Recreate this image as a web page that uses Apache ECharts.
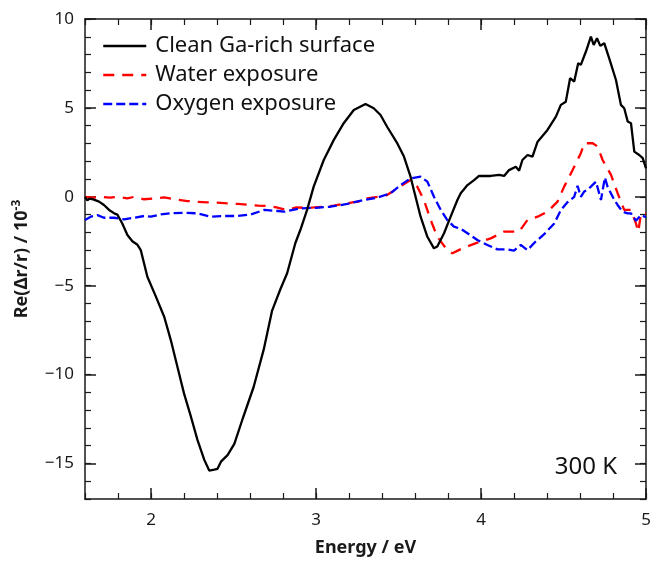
<!DOCTYPE html>
<html>
<head>
<meta charset="utf-8">
<script src="https://cdn.jsdelivr.net/npm/echarts@6/dist/echarts.min.js"></script>
<style>
  html, body { margin: 0; padding: 0; background: #fff; }
  #chart { width: 654px; height: 562px; }
</style>
</head>
<body>
<div id="chart"></div>
<script>
// energies (eV) and Re(dr/r) values (x 1e-3)
const cleanE = [1.60, 1.614, 1.627, 1.65, 1.685, 1.715, 1.746, 1.78, 1.796, 1.806, 1.826, 1.857, 1.887, 1.918, 1.938,
  1.978, 2.029, 2.08, 2.12, 2.16, 2.20, 2.242, 2.282, 2.323, 2.353, 2.383, 2.403, 2.424, 2.464, 2.505, 2.555,
  2.622, 2.683, 2.734, 2.784, 2.825, 2.875, 2.905, 2.946, 2.986, 3.047, 3.108, 3.168, 3.229, 3.30, 3.35, 3.391,
  3.431, 3.493, 3.533, 3.573, 3.593, 3.634, 3.675, 3.715, 3.735, 3.776, 3.816, 3.857, 3.877, 3.918, 3.958, 3.988,
  4.059, 4.11, 4.14, 4.17, 4.211, 4.231, 4.251, 4.282, 4.312, 4.343, 4.403, 4.454, 4.484, 4.514, 4.54, 4.565,
  4.589, 4.605, 4.636, 4.666, 4.683, 4.703, 4.723, 4.747, 4.777, 4.818, 4.848, 4.868, 4.889, 4.909, 4.929, 4.959,
  4.98, 5.0];
const cleanV = [0.0, -0.2, -0.1, -0.15, -0.27, -0.46, -0.74, -0.95, -1.0, -0.9, -1.5, -2.15, -2.5, -2.7, -3.0,
  -4.5, -5.6, -6.75, -8.06, -9.56, -11.06, -12.37, -13.69, -14.8, -15.4, -15.35, -15.3, -14.9, -14.53, -13.9, -12.5,
  -10.7, -8.6, -6.4, -5.2, -4.3, -2.6, -1.87, -0.74, 0.57, 2.07, 3.2, 4.14, 4.88, 5.22, 4.98, 4.6,
  3.94, 3.0, 2.26, 1.13, 0.38, -1.12, -2.25, -2.9, -2.8, -2.05, -1.12, -0.18, 0.2, 0.66, 0.94, 1.17,
  1.17, 1.23, 1.17, 1.5, 1.69, 1.47, 2.07, 2.35, 2.26, 3.1, 3.76, 4.51, 5.17, 5.35, 6.67, 6.48,
  7.51, 7.42, 8.17, 9.01, 8.54, 8.92, 8.49, 8.64, 7.79, 6.57, 5.17, 4.98, 4.23, 4.14, 2.54, 2.35,
  2.17, 1.6];

const waterE = [1.60, 1.65, 1.70, 1.75, 1.80, 1.857, 1.90, 1.958, 2.02, 2.08, 2.15, 2.221, 2.28, 2.343, 2.40,
  2.464, 2.525, 2.585, 2.65, 2.707, 2.76, 2.825, 2.88, 2.93, 2.986, 3.047, 3.108, 3.168, 3.229, 3.27, 3.31,
  3.37, 3.431, 3.493, 3.573, 3.614, 3.654, 3.695, 3.735, 3.796, 3.827, 3.887, 3.978, 4.059, 4.14, 4.231, 4.282,
  4.343, 4.403, 4.464, 4.504, 4.555, 4.605, 4.626, 4.677, 4.707, 4.737, 4.788, 4.828, 4.868, 4.909, 4.939, 4.953,
  4.97, 5.0];
const waterV = [0.0, -0.05, 0.0, -0.05, 0.0, -0.09, 0.0, -0.14, -0.1, -0.03, -0.15, -0.24, -0.28, -0.31, -0.33,
  -0.37, -0.4, -0.44, -0.5, -0.52, -0.6, -0.74, -0.6, -0.62, -0.6, -0.56, -0.5, -0.4, -0.3, -0.27, -0.09,
  0.0, 0.1, 0.48, 0.94, 0.57, -0.18, -1.3, -2.25, -3.0, -3.18, -2.9, -2.58, -2.34, -1.96, -1.96, -1.3,
  -1.12, -0.84, -0.27, 0.57, 1.5, 2.45, 3.01, 3.01, 2.82, 2.07, 1.23, 0.2, -0.74, -0.74, -1.5, -1.96,
  -0.93, -0.93];

const oxygenE = [1.60, 1.635, 1.675, 1.715, 1.776, 1.837, 1.898, 1.958, 1.999, 2.06, 2.12, 2.201, 2.282, 2.363, 2.444,
  2.525, 2.606, 2.687, 2.768, 2.808, 2.905, 3.0, 3.088, 3.19, 3.29, 3.37, 3.452, 3.513, 3.573, 3.634, 3.675,
  3.715, 3.756, 3.796, 3.836, 3.877, 3.918, 3.978, 4.039, 4.10, 4.16, 4.2, 4.241, 4.282, 4.322, 4.383, 4.444,
  4.484, 4.525, 4.565, 4.585, 4.605, 4.626, 4.646, 4.666, 4.697, 4.727, 4.751, 4.767, 4.808, 4.828, 4.858, 4.889,
  4.909, 4.939, 4.97, 5.0];
const oxygenV = [-1.31, -1.12, -1.03, -1.18, -1.18, -1.27, -1.18, -1.08, -1.12, -0.99, -0.93, -0.9, -0.93, -1.12, -1.08,
  -1.08, -0.99, -0.74, -0.8, -0.84, -0.65, -0.62, -0.56, -0.4, -0.18, -0.05, 0.2, 0.66, 1.04, 1.13, 0.85,
  0.0, -0.74, -1.31, -1.68, -1.8, -2.05, -2.43, -2.71, -2.96, -2.96, -3.03, -2.71, -3.0, -2.6, -2.1, -1.5,
  -0.75, -0.3, 0.0, 0.62, 0.0, 0.3, 0.4, 0.57, 0.85, -0.18, 1.08, 0.57, -0.18, -0.46, -0.84, -0.93,
  -0.93, -1.35, -1.03, -1.15];

const xMajor = [2, 3, 4, 5];
const yMajor = [-15, -10, -5, 0, 5, 10];

const font = 'Noto Sans';
const axisColor = '#1a1a1a';

const zip = (xs, ys) => xs.map((x, i) => [x, ys[i]]);
const minus = v => (v < 0 ? '\u2212' + Math.abs(v) : String(v));

const chart = echarts.init(document.getElementById('chart'));

// one axis for minor ticks, one for major ticks + labels, on each side
const xAxisFor = (position, major) => ({
    type: 'value',
    position: position,
    min: 1.6,
    max: 5,
    interval: major ? undefined : 0.2,
    axisLine: { show: major, onZero: false, lineStyle: { color: axisColor, width: 1.5 } },
    axisTick: major
        ? { inside: true, length: 11, customValues: xMajor, lineStyle: { color: axisColor, width: 1.5 } }
        : { inside: true, length: 6, lineStyle: { color: axisColor, width: 1.2 } },
    axisLabel: (major && position === 'bottom')
        ? { customValues: xMajor, margin: 13, fontSize: 17, color: axisColor, fontFamily: font }
        : { show: false },
    splitLine: { show: false },
    name: (major && position === 'bottom') ? 'Energy / eV' : '',
    nameLocation: 'middle',
    nameGap: 40,
    nameTextStyle: { fontSize: 18, fontWeight: 'bold', color: axisColor, fontFamily: font }
});

const yAxisFor = (position, major) => ({
    type: 'value',
    position: position,
    min: -17,
    max: 10,
    interval: major ? undefined : 1,
    axisLine: { show: major, onZero: false, lineStyle: { color: axisColor, width: 1.5 } },
    axisTick: major
        ? { inside: true, length: 11, customValues: yMajor, lineStyle: { color: axisColor, width: 1.5 } }
        : { inside: true, length: 6, lineStyle: { color: axisColor, width: 1.2 } },
    axisLabel: (major && position === 'left')
        ? { customValues: yMajor, margin: 11, fontSize: 17, color: axisColor, fontFamily: font, formatter: minus }
        : { show: false },
    splitLine: { show: false },
    name: (major && position === 'left') ? '{b|Re(\u0394r/r) / 10}{s|-3}' : '',
    nameLocation: 'middle',
    nameRotate: 90,
    nameGap: 52,
    nameTextStyle: {
        color: axisColor,
        rich: {
            b: { fontSize: 18, fontWeight: 'bold', fontFamily: font, color: axisColor },
            s: { fontSize: 12, fontWeight: 'bold', fontFamily: font, color: axisColor, verticalAlign: 'top', padding: [0, 0, 10, 0] }
        }
    }
});

chart.setOption({
    animation: false,
    backgroundColor: '#fff',
    grid: { left: 85, right: 8, top: 19, bottom: 63, outerBoundsMode: 'none' },
    xAxis: [
        xAxisFor('bottom', true),
        xAxisFor('bottom', false),
        xAxisFor('top', true),
        xAxisFor('top', false)
    ],
    yAxis: [
        yAxisFor('left', true),
        yAxisFor('left', false),
        yAxisFor('right', true),
        yAxisFor('right', false)
    ],
    legend: {
        left: 97,
        top: 30,
        orient: 'vertical',
        itemWidth: 43,
        itemHeight: 14,
        itemGap: 7,
        itemStyle: { opacity: 0 },
        lineStyle: { width: 2.5 },
        textStyle: { fontSize: 22, color: '#111', fontFamily: font, padding: [0, 0, 0, 4] },
        data: ['Clean Ga-rich surface', 'Water exposure', 'Oxygen exposure']
    },
    graphic: [{
        type: 'text',
        right: 37,
        top: 455,
        style: { text: '300 K', fontSize: 24, fill: '#111', fontFamily: font }
    }],
    series: [
        {
            name: 'Clean Ga-rich surface',
            type: 'line',
            symbol: 'none',
            data: zip(cleanE, cleanV),
            lineStyle: { color: '#000', width: 2.3 },
            itemStyle: { color: '#000' },
            z: 3
        },
        {
            name: 'Water exposure',
            type: 'line',
            symbol: 'none',
            data: zip(waterE, waterV),
            lineStyle: { color: '#ff0000', width: 2.3, type: [11, 8] },
            itemStyle: { color: '#ff0000' },
            z: 2
        },
        {
            name: 'Oxygen exposure',
            type: 'line',
            symbol: 'none',
            data: zip(oxygenE, oxygenV),
            lineStyle: { color: '#0000ff', width: 2.3, type: [9, 4] },
            itemStyle: { color: '#0000ff' },
            z: 2
        }
    ]
});
</script>
</body>
</html>
